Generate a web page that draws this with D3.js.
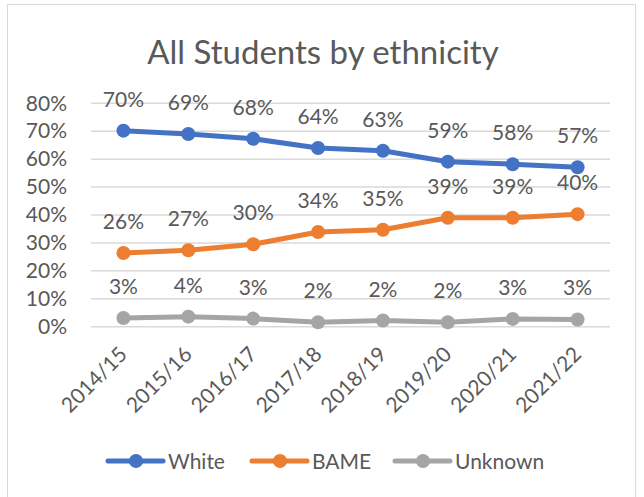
<!DOCTYPE html>
<html>
<head>
<meta charset="utf-8">
<script src="https://cdn.jsdelivr.net/npm/d3@7"></script>
<style>
  html, body { margin: 0; padding: 0; background: #fff; }
  svg { display: block; font-family: Lato, "Open Sans", sans-serif; }
</style>
</head>
<body>
<svg id="chart" width="644" height="497"></svg>
<script>
const title = "All Students by ethnicity";
const categories = ["2014/15", "2015/16", "2016/17", "2017/18", "2018/19", "2019/20", "2020/21", "2021/22"];
const seriesNames = ["White", "BAME", "Unknown"];
const white = [70.2, 69.0, 67.3, 64.0, 63.0, 59.1, 58.2, 57.1];
const bame = [26.4, 27.4, 29.5, 33.9, 34.7, 39.0, 39.0, 40.3];
const unknown = [3.1, 3.6, 2.9, 1.6, 2.2, 1.6, 2.8, 2.6];
const labelsWhite = ["70%", "69%", "68%", "64%", "63%", "59%", "58%", "57%"];
const labelsBame = ["26%", "27%", "30%", "34%", "35%", "39%", "39%", "40%"];
const labelsUnknown = ["3%", "4%", "3%", "2%", "2%", "2%", "3%", "3%"];
const yTicks = [0, 10, 20, 30, 40, 50, 60, 70, 80];
const colors = ["#4472C4", "#ED7D31", "#A5A5A5"];

const series = [
  { name: seriesNames[0], values: white, labels: labelsWhite, color: colors[0] },
  { name: seriesNames[1], values: bame, labels: labelsBame, color: colors[1] },
  { name: seriesNames[2], values: unknown, labels: labelsUnknown, color: colors[2] }
];

const svg = d3.select("#chart");
const textColor = "#595959";

// outer border
svg.append("rect").attr("x", 7.5).attr("y", 4.5).attr("width", 628).attr("height", 500)
  .attr("fill", "#fff").attr("stroke", "#d9d9d9").attr("stroke-width", 1);

const pLeft = 91, pRight = 610, pTop = 103.3, pBottom = 326.7;
const x = d3.scaleBand().domain(categories).range([pLeft, pRight]);
const y = d3.scaleLinear().domain([0, 80]).range([pBottom, pTop]);

// title
svg.append("text").attr("x", 323).attr("y", 64).attr("text-anchor", "middle")
  .attr("fill", textColor).attr("font-size", 33).text(title);

// gridlines
svg.append("g").selectAll("line").data(yTicks).join("line")
  .attr("x1", pLeft).attr("x2", pRight)
  .attr("y1", d => y(d)).attr("y2", d => y(d))
  .attr("stroke", "#d9d9d9").attr("stroke-width", 1.5);

// y axis
const yAxis = d3.axisLeft(y).tickValues(yTicks).tickFormat(d => d + "%").tickSize(0).tickPadding(0);
const gy = svg.append("g").attr("transform", "translate(67,0)").call(yAxis);
gy.select(".domain").remove();
gy.selectAll("text").attr("fill", textColor).attr("font-size", 21).attr("font-family", "Lato, sans-serif");

// x axis
const xAxis = d3.axisBottom(x).tickSize(0).tickPadding(0);
const gx = svg.append("g").attr("transform", `translate(0,${pBottom})`).call(xAxis);
gx.select(".domain").remove();
gx.selectAll("text")
  .attr("fill", textColor).attr("font-size", 21).attr("font-family", "Lato, sans-serif")
  .attr("text-anchor", "end")
  .attr("dy", null)
  .attr("transform", "translate(5,29) rotate(-45)");

// lines
const line = d3.line().x((d, i) => x(categories[i]) + x.bandwidth() / 2).y(d => y(d));
series.forEach(s => {
  svg.append("path").datum(s.values).attr("d", line)
    .attr("fill", "none").attr("stroke", s.color).attr("stroke-width", 5)
    .attr("stroke-linejoin", "round").attr("stroke-linecap", "round");
  svg.append("g").selectAll("circle").data(s.values).join("circle")
    .attr("cx", (d, i) => x(categories[i]) + x.bandwidth() / 2)
    .attr("cy", d => y(d)).attr("r", 7).attr("fill", s.color);
  svg.append("g").selectAll("text").data(s.values).join("text")
    .attr("x", (d, i) => x(categories[i]) + x.bandwidth() / 2)
    .attr("y", d => y(d) - 24)
    .attr("text-anchor", "middle").attr("fill", textColor).attr("font-size", 21)
    .text((d, i) => s.labels[i]);
});

// legend
const legendItems = [
  { lx: 108, tx: 168 },
  { lx: 252, tx: 312 },
  { lx: 395, tx: 455 }
];
const ly = 461;
const lg = svg.append("g");
series.forEach((s, i) => {
  const p = legendItems[i];
  lg.append("line").attr("x1", p.lx).attr("x2", p.lx + 55).attr("y1", ly).attr("y2", ly)
    .attr("stroke", s.color).attr("stroke-width", 5).attr("stroke-linecap", "round");
  lg.append("circle").attr("cx", p.lx + 28).attr("cy", ly).attr("r", 7).attr("fill", s.color);
  lg.append("text").attr("x", p.tx).attr("y", ly + 7.5).attr("fill", textColor)
    .attr("font-size", 21).text(s.name);
});
</script>
</body>
</html>
